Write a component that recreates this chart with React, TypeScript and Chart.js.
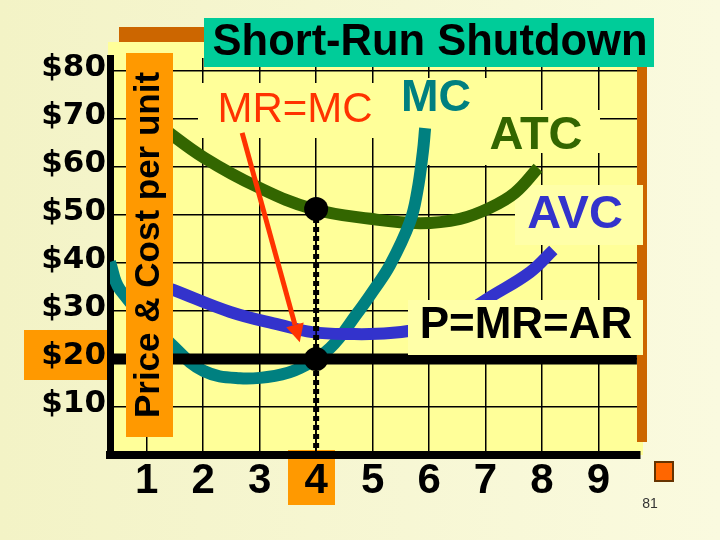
import React, { useEffect, useRef } from 'react';
import { Chart, registerables } from 'chart.js';

Chart.register(...registerables);

// ---- data ----
const quantityTicks = [1, 2, 3, 4, 5, 6, 7, 8, 9];
const quantityLabels = ['1', '2', '3', '4', '5', '6', '7', '8', '9'];
const priceTicks = [10, 20, 30, 40, 50, 60, 70, 80];
const priceLabels = ['$10', '$20', '$30', '$40', '$50', '$60', '$70', '$80'];

const atcQ = [1.24, 2.02, 2.97, 3.93, 4.96, 5.84, 6.55, 7.08, 7.52, 7.93];
const atcCost = [68.5, 61.9, 55.8, 51.3, 49.2, 48.3, 49.2, 51.5, 54.6, 59.8];

const mcQ = [0.35, 0.53, 1.47, 2.01, 2.65, 3.27, 3.71, 4.25, 4.72, 5.01, 5.31, 5.66, 5.79, 5.89, 5.93];
const mcCost = [40.2, 34.4, 22.7, 17.5, 16.0, 16.5, 18.1, 22.3, 29.4, 34.2, 39.6, 48.5, 54.8, 63.1, 68.1];

const avcQ = [1.24, 1.47, 2.48, 3.36, 3.93, 4.6, 5.31, 6.02, 6.55, 7.08, 7.79, 8.2];
const avcCost = [35.4, 34.4, 29.8, 27.1, 25.6, 25.2, 25.4, 26.7, 29.0, 32.9, 38.1, 42.7];

const priceQ = [0.4, 9.68];
const priceValue = 20;
const shutdownQ = 4;
const shutdownATC = 51.25;
const arrowFromQ = 2.69;
const arrowFromCost = 67.1;
const arrowToQ = 3.71;
const arrowToCost = 23.5;

const X_MIN = 0.35;
const X_MAX = 9.735;
const Y_MIN = 0;
const Y_MAX = 82.7;

// ---- colours ----
const PLOT = '#ffff99';
const BOX = '#ffffa8';
const ORANGE = '#ff9900';
const BROWN = '#cc6600';
const TEAL_BOX = '#00cc99';
const RED = '#ff3300';
const MC_COL = '#008080';
const ATC_COL = '#336600';
const AVC_COL = '#3333cc';
const SANS = '"Liberation Sans", Arial, sans-serif';

function txt(ctx: CanvasRenderingContext2D, s: string, x: number, y: number, font: string, color: string) {
  ctx.save();
  ctx.font = font;
  ctx.fillStyle = color;
  ctx.textAlign = 'center';
  ctx.textBaseline = 'middle';
  ctx.fillText(s, x, y);
  ctx.restore();
}

function rect(ctx: CanvasRenderingContext2D, x0: number, y0: number, x1: number, y1: number, color: string) {
  ctx.fillStyle = color;
  ctx.fillRect(x0, y0, x1 - x0, y1 - y0);
}

const pts = (xs: number[], ys: number[]) => xs.map((x, i) => ({ x, y: ys[i] }));

const decor = {
  id: 'decor',
  beforeDraw(chart: any) {
    const ctx = chart.ctx as CanvasRenderingContext2D;
    ctx.save();
    const g = ctx.createLinearGradient(0, 0, 720, 0);
    g.addColorStop(0, '#f3f3c6');
    g.addColorStop(1, '#fafadf');
    ctx.fillStyle = g;
    ctx.fillRect(0, 0, 720, 540);
    rect(ctx, 108, 42, 643, 455, PLOT);
    rect(ctx, 119, 27, 204, 42, BROWN);
    rect(ctx, 24, 330, 113, 380, ORANGE);
    rect(ctx, 288, 450, 335, 505, ORANGE);
    ctx.restore();
  },
  beforeDatasetsDraw(chart: any) {
    const ctx = chart.ctx as CanvasRenderingContext2D;
    ctx.save();
    rect(ctx, 637, 67, 647, 442, BROWN);
    rect(ctx, 198, 83, 377, 138, PLOT);
    rect(ctx, 377, 78, 492, 165, PLOT);
    rect(ctx, 475, 110, 600, 153, PLOT);
    rect(ctx, 515, 185, 643, 245, BOX);
    txt(ctx, 'MR=MC', 295, 110, `42px ${SANS}`, RED);
    txt(ctx, 'MC', 436, 99, `bold 45px ${SANS}`, MC_COL);
    txt(ctx, 'ATC', 536, 136, `bold 47px ${SANS}`, ATC_COL);
    txt(ctx, 'AVC', 575, 215, `bold 47px ${SANS}`, AVC_COL);
    ctx.restore();
  },
  afterDatasetsDraw(chart: any) {
    const ctx = chart.ctx as CanvasRenderingContext2D;
    const xs = chart.scales.x;
    const ys = chart.scales.y;
    ctx.save();
    rect(ctx, 408, 300, 643, 355, BOX);
    txt(ctx, 'P=MR=AR', 526, 326, `bold 44px ${SANS}`, '#000');
    rect(ctx, 126, 53, 173, 437, ORANGE);
    ctx.save();
    ctx.translate(149, 245);
    ctx.rotate(-Math.PI / 2);
    txt(ctx, 'Price & Cost per unit', 0, 0, `bold 35px ${SANS}`, '#000');
    ctx.restore();
    const x1 = xs.getPixelForValue(arrowFromQ);
    const y1 = ys.getPixelForValue(arrowFromCost);
    const x2 = xs.getPixelForValue(arrowToQ);
    const y2 = ys.getPixelForValue(arrowToCost);
    const a = Math.atan2(y2 - y1, x2 - x1);
    const hl = 18;
    const hw = 9;
    const bx = x2 - hl * Math.cos(a);
    const by = y2 - hl * Math.sin(a);
    ctx.strokeStyle = RED;
    ctx.lineWidth = 5;
    ctx.beginPath();
    ctx.moveTo(x1, y1);
    ctx.lineTo(bx, by);
    ctx.stroke();
    ctx.fillStyle = RED;
    ctx.beginPath();
    ctx.moveTo(x2, y2);
    ctx.lineTo(bx + hw * Math.sin(a), by - hw * Math.cos(a));
    ctx.lineTo(bx - hw * Math.sin(a), by + hw * Math.cos(a));
    ctx.closePath();
    ctx.fill();
    ctx.restore();
  },
  afterDraw(chart: any) {
    const ctx = chart.ctx as CanvasRenderingContext2D;
    ctx.save();
    rect(ctx, 204, 18, 654, 67, TEAL_BOX);
    txt(ctx, 'Short-Run Shutdown', 430, 43, `bold 43.5px ${SANS}`, '#000');
    ctx.fillStyle = '#ff6600';
    ctx.fillRect(655, 462, 18, 19);
    ctx.strokeStyle = '#663300';
    ctx.lineWidth = 2;
    ctx.strokeRect(655, 462, 18, 19);
    txt(ctx, '81', 650, 504, `14px ${SANS}`, '#333');
    ctx.restore();
  },
};

export default function App() {
  const ref = useRef<HTMLCanvasElement>(null);
  useEffect(() => {
    if (!ref.current) return;
    const curve = (label: string, xs: number[], ys: number[], color: string) => ({
      label,
      data: pts(xs, ys),
      showLine: true,
      borderColor: color,
      borderWidth: 12,
      borderCapStyle: 'butt',
      pointRadius: 0,
      tension: 0.4,
    });
    const chart = new Chart(ref.current, {
      type: 'scatter',
      data: {
        datasets: [
          {
            label: 'points',
            data: [
              { x: shutdownQ, y: shutdownATC },
              { x: shutdownQ, y: priceValue },
            ],
            pointRadius: 12,
            pointBackgroundColor: '#000',
            pointBorderWidth: 0,
            showLine: false,
          },
          {
            label: 'qdash',
            data: [
              { x: shutdownQ, y: shutdownATC },
              { x: shutdownQ, y: Y_MIN },
            ],
            showLine: true,
            borderColor: '#000',
            borderWidth: 6,
            borderDash: [5, 4],
            pointRadius: 0,
          },
          {
            label: 'qthin',
            data: [
              { x: shutdownQ, y: shutdownATC },
              { x: shutdownQ, y: Y_MIN },
            ],
            showLine: true,
            borderColor: '#000',
            borderWidth: 1.5,
            pointRadius: 0,
          },
          {
            label: 'P=MR=AR',
            data: priceQ.map((q) => ({ x: q, y: priceValue })),
            showLine: true,
            borderColor: '#000',
            borderWidth: 11,
            borderCapStyle: 'butt',
            pointRadius: 0,
          },
          curve('AVC', avcQ, avcCost, AVC_COL),
          curve('MC', mcQ, mcCost, MC_COL),
          curve('ATC', atcQ, atcCost, ATC_COL),
        ] as any,
      },
      options: {
        responsive: false,
        animation: false,
        devicePixelRatio: 1,
        layout: { padding: { left: 0, top: 58, right: 80, bottom: 0 } },
        plugins: { legend: { display: false }, tooltip: { enabled: false } },
        scales: {
          x: {
            type: 'linear',
            min: X_MIN,
            max: X_MAX,
            afterFit: (s: any) => {
              s.height = 85;
            },
            afterBuildTicks: (s: any) => {
              s.ticks = quantityTicks.map((v) => ({ value: v }));
            },
            ticks: {
              callback: (v: any) => quantityLabels[quantityTicks.indexOf(Number(v))] ?? '',
              color: '#000',
              font: { family: SANS, size: 42, weight: 'bold', lineHeight: 1 },
              padding: 5,
              maxRotation: 0,
              autoSkip: false,
            },
            grid: { color: '#000', lineWidth: 1.5, drawTicks: false },
            border: { display: true, color: '#000', width: 8 },
          },
          y: {
            type: 'linear',
            min: Y_MIN,
            max: Y_MAX,
            afterFit: (s: any) => {
              s.width = 110;
            },
            afterBuildTicks: (s: any) => {
              s.ticks = priceTicks.map((v) => ({ value: v }));
            },
            ticks: {
              callback: (v: any) => priceLabels[priceTicks.indexOf(Number(v))] ?? '',
              color: '#000',
              font: { family: '"DejaVu Sans", sans-serif', size: 31, weight: 'bold' },
              padding: 4,
              labelOffset: -3,
              autoSkip: false,
            },
            grid: { color: '#000', lineWidth: 1.5, drawTicks: false },
            border: { display: true, color: '#000', width: 7 },
          },
        },
      } as any,
      plugins: [decor],
    });
    return () => chart.destroy();
  }, []);
  return (
    <div style={{ position: 'fixed', left: 0, top: 0, width: 720, height: 540 }}>
      <canvas ref={ref} width={720} height={540} style={{ display: 'block' }} />
    </div>
  );
}
